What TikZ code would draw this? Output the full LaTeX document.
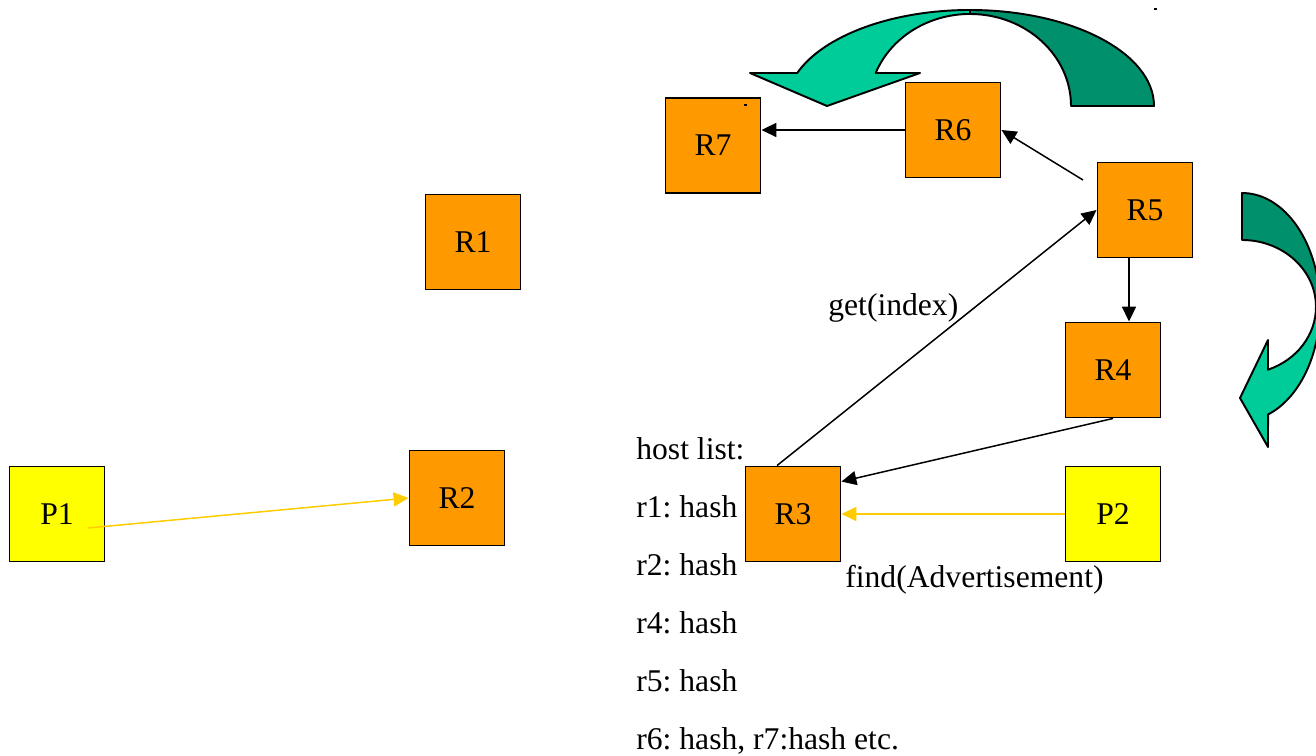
\documentclass[tikz,border=0pt]{standalone}
\usepackage{fontspec}
\setmainfont{Liberation Serif}
\usetikzlibrary{arrows.meta,calc}
\definecolor{orangebox}{RGB}{255,153,0}
\definecolor{yellowbox}{RGB}{255,255,0}
\definecolor{yarrow}{RGB}{255,204,0}
\definecolor{lightgreen}{RGB}{0,204,153}
\definecolor{darkgreen}{RGB}{0,144,108}
\frenchspacing
\begin{document}
\begin{tikzpicture}[x=0.02cm,y=0.02cm,
  font=\fontsize{18}{21}\selectfont,
  rbox/.style={draw=black,line width=1.1pt,fill=orangebox,minimum size=1.9cm,inner sep=0pt},
  pbox/.style={rbox,fill=yellowbox},
  blk/.style={draw=black,line width=0.85pt,-{Triangle[length=8.5pt,width=8pt]}},
  ylw/.style={draw=yarrow,line width=0.85pt,-{Triangle[length=8.5pt,width=8pt]}},
  band/.style={draw=black,line width=1.1pt,line join=round},
  lbl/.style={anchor=base west,inner sep=0pt}]
\useasboundingbox (0,0) rectangle (1316,-756);
\clip (0,0) rectangle (1316,-756);

% curved arrows
\path[band,fill=darkgreen] (1154,-106) arc[start angle=0,end angle=90,x radius=184,y radius=96]
  -- (970,-14) arc[start angle=90,end angle=0,x radius=101,y radius=92] -- cycle;
\path[band,fill=lightgreen] (970,-10) arc[start angle=90,end angle=159.9,x radius=184,y radius=96]
  -- (750,-73) -- (827,-106) -- (920,-73) -- (875.7,-73)
  arc[start angle=159,end angle=90,x radius=101,y radius=92] -- cycle;

\path[band,fill=darkgreen] (1242,-193) arc[start angle=90,end angle=0,x radius=78,y radius=114]
  -- (1316,-307) arc[start angle=0,end angle=90,x radius=74,y radius=67] -- cycle;
\path[band,fill=lightgreen] (1320,-307) arc[start angle=0,end angle=-70.5,x radius=78,y radius=114]
  -- (1268,-447) -- (1240,-398) -- (1268,-340) -- (1268,-369.7)
  arc[start angle=-69.4,end angle=0,x radius=74,y radius=67] -- cycle;

% boxes
\node[rbox] (R7) at (713,-145.5) {\raisebox{-2pt}{R7}};
\node[rbox] (R6) at (953,-130) {\raisebox{-1pt}{R6}};
\node[rbox] (R1) at (473,-242) {R1};
\node[rbox] (R5) at (1145,-210) {\raisebox{-1pt}{R5}};
\node[rbox] (R4) at (1113,-370) {\raisebox{-1pt}{R4}};
\node[rbox] (R3) at (793,-514) {\raisebox{-2pt}{R3}};
\node[pbox] (P2) at (1113,-514) {\raisebox{-2pt}{P2}};
\node[pbox] (P1) at (57,-514) {\raisebox{-2pt}{P1}};
\node[rbox] (R2) at (457,-498) {R2};

% tiny marks
\fill (1154,-8) rectangle (1157,-10);
\fill (744,-104) rectangle (747,-106);

% connectors
\coordinate (r5s) at (1083,-180);
\coordinate (p1s) at ($(P1.center)+(31,-14)$);
\draw[blk] (R6.west) -- (R7.east |- R6.west);
\draw[blk] (r5s) -- (R6.east);
\draw[blk] ($(R3.north)+(-16,0)$) -- (R5.west);
\draw[blk] ($(R5.south)+(-16,0)$) -- ($(R4.north)+(16,0)$);
\draw[blk] (R4.south) -- ($(R3.north east)+(0,-16)$);
\draw[ylw] (P2.west) -- (R3.east);
\draw[ylw] (p1s) -- (R2.west);

% labels
\node[lbl] (gi) at (828,-316) {get(index)};
\node[lbl] (fa) at (845,-588) {find(Advertisement)};
\node[lbl] (h0) at (636,-460) {host list:};
\node[lbl] (h1) at (636,-518) {r1: hash};
\node[lbl] (h2) at (636,-576) {r2: hash};
\node[lbl] (h4) at (636,-634) {r4: hash};
\node[lbl] (h5) at (636,-692) {r5: hash};
\node[lbl] (h6) at (636,-750) {r6: hash, r7:hash etc.};
\end{tikzpicture}
\end{document}
